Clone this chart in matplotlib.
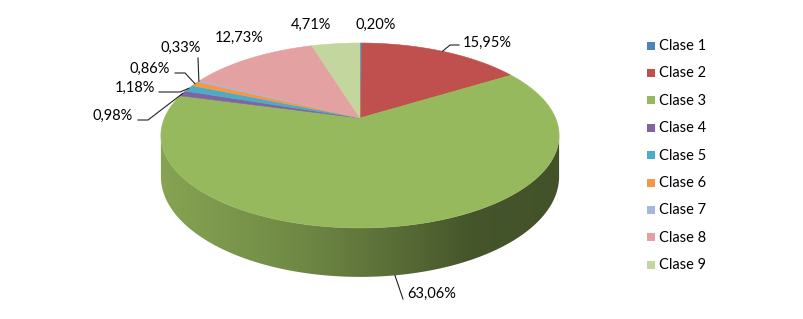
import numpy as np
import matplotlib
matplotlib.use('Agg')
import matplotlib.pyplot as plt
from matplotlib.patches import Polygon, Rectangle
from matplotlib.colors import to_rgb

# data
categories = ['Clase 1', 'Clase 2', 'Clase 3', 'Clase 4', 'Clase 5',
              'Clase 6', 'Clase 7', 'Clase 8', 'Clase 9']
values = [0.20, 15.95, 63.06, 0.98, 1.18, 0.86, 0.33, 12.73, 4.71]
colors = ['#4F81BD', '#C0504D', '#97B95D', '#8064A2', '#4BACC6',
          '#F79646', '#A3B8DC', '#E3A2A1', '#C3D69E']

# label layout (pixel coords): text centre, leader start/elbow (None = no leader)
label_pos = [(376, 25), (487, 43), (432, 294), (113, 116), (135, 88),
             (150, 69), (181, 48), (239, 38), (311, 25)]
leader_pts = [None, [(459, 45), (450, 45)], [(403, 299)], [(138, 120), (148, 120)],
              [(159, 92), (180, 92)], [(175, 73), (185, 73)], [(198, 58)], None, None]

plt.rcParams['font.family'] = ['Lato', 'DejaVu Sans']

W, H = 804, 319
fig = plt.figure(figsize=(W / 100, H / 100), dpi=100)
ax = fig.add_axes([0, 0, 1, 1])
ax.set_xlim(0, W)
ax.set_ylim(H, 0)
ax.axis('off')

# simple perspective for the tilted disk
CX, A, G, P, Q, DEPTH = 360, 195.5, 0.189, 118, -66.87, 39.7


def proj(phi, r=1.0, bottom=False):
    u, v = r * np.sin(phi), r * np.cos(phi)
    w = 1 + G * v
    x = CX + A * u / w
    y = (P + Q * v) / w + (DEPTH / w if bottom else 0)
    return x, y


fracs = np.array(values) / np.sum(values)
edges = np.concatenate([[0], np.cumsum(fracs)]) * 2 * np.pi
phi_r, phi_l = np.arccos(-G), 2 * np.pi - np.arccos(-G)

# side walls (front half only), horizontal light gradient clipped to the wall
shade_u = [-1, -0.25, 0.17, 0.46, 1]
shade_f = [0.93, 0.74, 0.58, 0.46, 0.44]
for i, c in enumerate(colors):
    a, b = max(edges[i], phi_r), min(edges[i + 1], phi_l)
    if b <= a:
        continue
    ph = np.linspace(a, b, 300)
    tx, ty = proj(ph)
    bx, by = proj(ph[::-1], bottom=True)
    wall = Polygon(list(zip(tx, ty)) + list(zip(bx, by)), closed=True,
                   fc='none', ec='none')
    ax.add_patch(wall)
    x0, x1 = min(tx.min(), bx.min()) - 2, max(tx.max(), bx.max()) + 2
    y0, y1 = min(ty.min(), by.min()) - 2, max(ty.max(), by.max()) + 2
    xs = np.linspace(x0, x1, 400)
    f = np.interp((xs - CX) / (A / (1 - G)), shade_u, shade_f)
    grad = np.clip(np.array(to_rgb(c))[None, None, :] * f[None, :, None], 0, 1)
    grad = np.repeat(grad, 2, axis=0)
    im = ax.imshow(grad, extent=(x0, x1, y1, y0), aspect='auto',
                   interpolation='bilinear', zorder=1)
    im.set_clip_path(wall)

# top faces
cx0, cy0 = proj(0, r=0)
for i, c in enumerate(colors):
    ph = np.linspace(edges[i], edges[i + 1], max(int((edges[i + 1] - edges[i]) / 0.01), 2))
    xs, ys = proj(ph)
    pts = [(cx0, cy0)] + list(zip(xs, ys))
    ax.add_patch(Polygon(pts, closed=True, fc=c, ec=c, lw=0.4, zorder=2))

ax.set_xlim(0, W)
ax.set_ylim(H, 0)

# data labels
for i, v in enumerate(values):
    txt = f'{v:.2f}'.replace('.', ',') + '%'
    ax.text(label_pos[i][0], label_pos[i][1], txt, ha='center', va='center',
            fontsize=10.5, color='black', zorder=4)
    if leader_pts[i] is not None:
        mid = (edges[i] + edges[i + 1]) / 2
        ax_, ay_ = proj(mid, bottom=(i == 2))
        pts = leader_pts[i] + [(ax_, ay_)]
        ax.plot([p[0] for p in pts], [p[1] for p in pts], color='#222222',
                lw=0.8, zorder=3)

# legend
for i, (name, c) in enumerate(zip(categories, colors)):
    y = 46 + i * 27.4
    ax.add_patch(Rectangle((647, y - 4.5), 8, 8, fc=c, ec='none'))
    ax.text(659, y, name, ha='left', va='center', fontsize=10.5, color='black')

fig.savefig('out.png', dpi=100)
